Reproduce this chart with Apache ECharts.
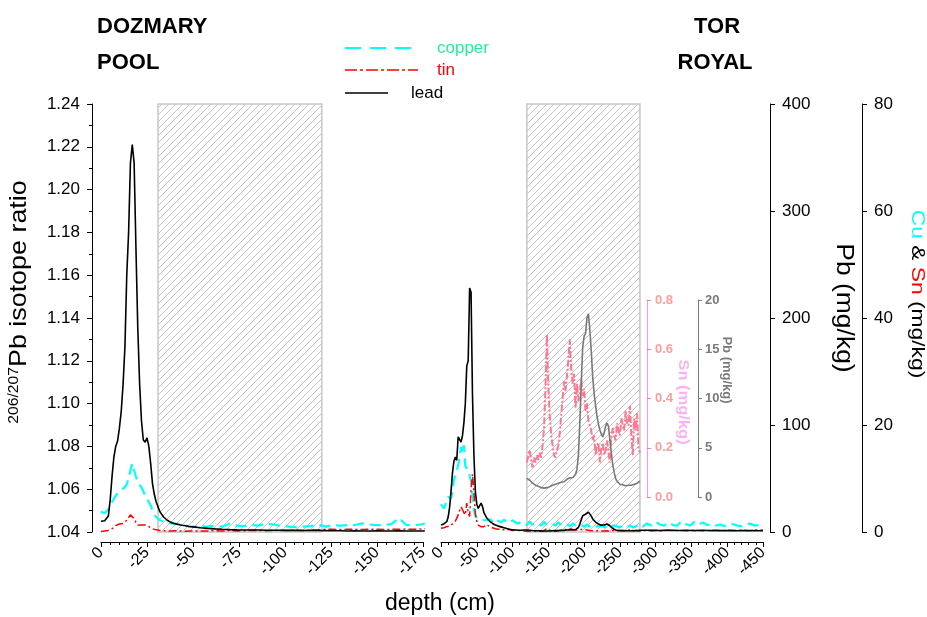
<!DOCTYPE html>
<html>
<head>
<meta charset="utf-8">
<script src="https://cdn.jsdelivr.net/npm/echarts@6/dist/echarts.min.js"></script>
<style>
  html, body { margin: 0; padding: 0; background: #fff; }
  #chart { width: 927px; height: 617px; }
</style>
</head>
<body>
<div id="chart"></div>
<script>
// ---------------- Dozmary Pool core (depth in cm, concentrations in mg/kg) ----------------
const dozDepth = [0,-1,-2,-3,-4,-5,-6,-7,-8,-9,-10,-11,-12,-13,-14,-15,-16,-17,-18,-19,-20,-21,-22,-23,-24,-25,-26,-27,-28,-29,-30,
  -32,-34,-36,-38,-40,-42,-44,-46,-48,-50,
  -54,-58,-62,-66,-70,-74,-78,-82,-86,-90,-94,-98,-102,-106,-110,-114,-118,-122,-126,-130,-134,-138,-142,-146,-150,-154,-158,-162,-166,-170,-174,-176];
const dozLead = [10,11,10.5,9,15,30,52,70,80,85,97,113,138,173,240,280,345,362,345,265,190,138,104,86,84,88,80,64,45,35,28,
  19,14,11,9,7.8,7,6.3,5.8,5.2,4.8,
  4.0,3.4,2.9,2.5,2.2,2.0,1.9,1.8,1.8,1.7,1.6,1.6,1.5,1.5,1.4,1.5,1.4,1.3,1.2,1.1,1.0,1.1,1.0,1.0,1.1,1.0,1.0,1.1,1.0,1.0,1.0,1.0];
const dozCopper = [3.8,3.9,3.5,3.4,4.2,5.0,5.6,6.2,6.8,7.2,7.5,7.8,8.0,8.4,8.9,10.0,11.5,12.8,11.5,10.3,9.5,8.8,8.3,7.6,6.8,6.3,5.6,5.0,4.0,3.2,2.8,
  2.2,2.0,1.8,1.6,1.6,1.5,1.4,1.2,1.0,1.0,
  1.1,1.0,1.2,1.0,1.6,1.2,1.1,1.3,1.2,1.6,1.4,1.1,1.0,0.9,1.0,1.1,1.4,1.0,1.3,1.2,1.3,1.3,1.6,1.4,1.3,1.3,1.5,2.6,1.3,1.3,1.4,1.6];
const dozTin = [0.1,0.1,0.2,0.25,0.3,0.4,0.6,0.9,1.2,1.4,1.5,1.6,1.6,1.8,2.2,2.5,3.2,3.5,2.5,1.8,1.3,1.2,1.3,1.3,1.3,1.2,1.0,0.8,0.6,0.5,0.4,
  0.3,0.25,0.2,0.2,0.25,0.2,0.2,0.15,0.2,0.2,
  0.2,0.2,0.25,0.2,0.3,0.2,0.25,0.3,0.3,0.25,0.3,0.3,0.3,0.35,0.3,0.35,0.4,0.5,0.5,0.45,0.5,0.5,0.45,0.5,0.5,0.45,0.5,0.5,0.55,0.5,0.55,0.6];

// ---------------- Tor Royal core ----------------
const torDepth = [0,-2,-4,-6,-8,-10,-12,-14,-16,-18,-20,-22,-24,-26,-28,-30,-32,-34,-36,-38,-40,-42,-44,-46,-48,-50,-52,-54,-56,-58,-60,
  -64,-68,-72,-76,-80,-84,-88,-92,-96,-100,-104,-108,-112,-116,
  -120,-122,-124,-126,-128,-130,-132,-134,-136,-138,-140,-142,-144,-146,-148,-150,-152,-154,-156,-158,
  -160,-162,-164,-166,-168,-170,-172,-174,-176,-178,-180,-182,-184,-186,-188,-190,-192,-194,-196,-198,
  -200,-202,-204,-206,-208,-210,-212,-214,-216,-218,-220,-222,-224,-226,-228,-230,-232,-234,-236,-238,
  -240,-242,-244,-246,-248,-250,-252,-254,-256,-258,-260,-262,-264,-266,-268,-270,-272,-274,-276,-278,
  -282,-288,-294,-300,-306,-312,-318,-324,-330,-336,-342,-348,-354,-360,-366,-372,-378,-384,-390,-396,-402,-408,-414,-420,-426,-432,-438,-444,-450];
const torLead = [6.5,7,7.5,8,9.6,14,23,38,55,66,70,67,89,88,84,90,102,120,155,160,228,224,128,72,38,26,22,23,27,24,18,
  13,10,8,6.5,5.5,4.8,4,3.2,2.5,2,1.8,1.6,1.7,1.8,
  1.9,1.8,1.7,1.5,1.4,1.3,1.2,1.15,1.1,1.0,0.95,0.9,0.9,0.85,0.95,1.0,1.05,1.1,1.2,1.25,
  1.3,1.35,1.4,1.4,1.5,1.6,1.55,1.7,1.8,1.75,1.95,2.0,1.95,2.1,2.3,2.8,4.2,7.5,11.5,15.2,
  16.3,16.6,18.2,18.6,17.0,14.8,12.2,10.5,9.3,8.2,7.4,6.8,6.4,6.1,6.5,7.2,7.5,7.2,5.8,4.5,
  3.3,2.5,1.9,1.6,1.4,1.3,1.2,1.25,1.2,1.15,1.2,1.2,1.1,1.2,1.1,1.3,1.4,1.4,1.5,1.6,
  1.7,1.6,1.5,1.5,1.4,1.5,1.6,1.5,1.4,1.4,1.5,1.4,1.3,1.4,1.5,1.4,1.3,1.4,1.3,1.3,1.4,1.3,1.2,1.3,1.3,1.2,1.3,1.2,1.2];
const torCopper = [5.2,4.8,4.4,4.2,5.7,6.6,6.4,6.2,7.5,9.8,10.6,11.4,12.5,14.0,15.9,14.7,16.2,12.3,12.0,11.5,10.5,9.4,7.0,4.2,2.9,2.7,2.6,2.6,2.4,2.3,2.2,
  2.2,2.4,2.0,2.5,2.1,1.8,2.3,1.9,1.7,2.2,1.8,1.6,1.9,1.5,
  1.3,1.5,1.9,1.6,1.4,1.2,1.5,1.8,1.6,1.3,1.2,1.5,1.9,1.7,1.4,1.3,1.6,1.9,1.5,1.3,
  1.2,1.4,1.8,1.6,1.3,1.2,1.5,1.7,1.4,1.2,1.1,1.3,1.6,1.4,1.2,1.0,1.2,1.5,1.3,1.1,
  1.0,1.2,1.4,1.2,1.0,1.1,1.3,1.2,1.0,0.9,1.1,1.3,1.1,1.0,0.9,1.0,1.2,1.1,0.9,1.0,
  1.2,1.4,1.2,1.0,0.9,1.1,1.0,0.9,1.1,1.0,0.9,1.0,1.2,1.1,0.9,0.8,1.0,1.2,1.4,1.2,
  1.0,1.6,1.2,1.9,1.4,1.2,1.8,1.3,1.2,2.0,1.5,1.2,1.9,1.4,1.8,1.3,1.5,1.2,1.4,1.1,1.3,1.5,1.2,1.1,1.3,1.6,1.2,1.3,1.7];
const torTin = [0.7,0.7,0.8,0.9,1.0,1.1,1.1,1.3,1.5,1.8,2.0,2.6,3.2,4.0,4.7,4.2,3.6,3.2,5.4,3.5,2.9,8.0,10.8,7.5,3.5,2.0,1.3,1.0,1.0,1.1,1.0,
  1.4,1.0,0.8,0.6,0.5,0.5,0.4,0.5,0.4,0.3,0.4,0.3,0.3,0.2,
  0.14,0.17,0.19,0.15,0.12,0.16,0.14,0.17,0.15,0.18,0.16,0.21,0.28,0.45,0.66,0.45,0.33,0.25,0.21,0.17,
  0.16,0.19,0.21,0.26,0.33,0.40,0.47,0.43,0.49,0.56,0.64,0.52,0.46,0.50,0.36,0.46,0.39,0.42,0.48,0.41,
  0.44,0.35,0.38,0.31,0.29,0.27,0.23,0.25,0.17,0.21,0.22,0.14,0.20,0.22,0.17,0.19,0.23,0.18,0.14,0.24,
  0.28,0.25,0.23,0.30,0.27,0.25,0.32,0.29,0.27,0.35,0.30,0.29,0.37,0.25,0.17,0.32,0.27,0.34,0.20,0.18,
  0.2,0.3,0.25,0.3,0.2,0.3,0.35,0.25,0.3,0.3,0.25,0.3,0.35,0.3,0.25,0.3,0.3,0.35,0.3,0.3,0.35,0.3,0.3,0.35,0.3,0.3,0.35,0.4,0.35];

// Depth ranges shaded with hatching (cm)
const dozHatch = [-31, -120];
const torHatch = [-120, -278];

// Axis ranges
const dozDepthRange = [-175, 0];
const torDepthRange = [-450, 0];

// ---------------- layout ----------------
const FONT = '"Liberation Sans", Arial, Helvetica, sans-serif';
const PLOT_TOP = 104, PLOT_H = 428, PANEL_W = 322;
const DOZ_LEFT = 101, TOR_LEFT = 441;
const INSET_TOP = 300, INSET_H = 197;
const torScale = PANEL_W / (torDepthRange[1] - torDepthRange[0]);
const insetLeft = TOR_LEFT + torScale * (0 - torHatch[0]);
const insetWidth = torScale * (torHatch[0] - torHatch[1]);

function pairs(xs, ys) { return xs.map((x, i) => [x, ys[i]]); }
function pairsWithin(xs, ys, range) {
  const out = [];
  xs.forEach((x, i) => { if (x <= range[0] && x >= range[1]) out.push([x, ys[i]]); });
  return out;
}

function hatchPattern() {
  const s = 7;
  const c = document.createElement('canvas');
  c.width = s; c.height = s;
  const g = c.getContext('2d');
  g.strokeStyle = '#c4c4c4';
  g.lineWidth = 1;
  g.beginPath();
  g.moveTo(0, s); g.lineTo(s, 0);
  g.moveTo(-2, 2); g.lineTo(2, -2);
  g.moveTo(s - 2, s + 2); g.lineTo(s + 2, s - 2);
  g.stroke();
  return c;
}
const hatchStyle = {
  color: { image: hatchPattern(), repeat: 'repeat' },
  borderColor: '#c6c6c6',
  borderWidth: 1.5
};

const tickLabel = { color: '#000', fontFamily: FONT, fontSize: 17 };

function depthAxis(gridIndex, range, interval) {
  return {
    type: 'value', gridIndex, min: range[0], max: range[1], interval, inverse: true,
    position: 'bottom', offset: 10,
    axisLine: { show: true, onZero: false, lineStyle: { color: '#000', width: 1 } },
    axisTick: { show: true, length: 5, lineStyle: { color: '#000' } },
    minorTick: { show: true, splitNumber: 5, length: 3, lineStyle: { color: '#000' } },
    axisLabel: { rotate: 45, margin: 8, color: '#000', fontFamily: FONT, fontSize: 16 },
    splitLine: { show: false }
  };
}

function valueAxis(gridIndex, position, offset, min, max, interval, extra) {
  return Object.assign({
    type: 'value', gridIndex, position, offset, min, max, interval,
    axisLine: { show: true, onZero: false, lineStyle: { color: '#000', width: 1 } },
    axisTick: { show: true, length: 5, lineStyle: { color: '#000' } },
    axisLabel: { ...tickLabel, margin: 12 },
    splitLine: { show: false }
  }, extra || {});
}

const lineBase = { type: 'line', showSymbol: false, symbol: 'none', smooth: false, animation: false, z: 3 };
const leadStyle = { color: '#000', width: 1.6 };
const copperStyle = { color: '#00ffff', width: 2.2, type: [11, 6] };
const tinStyle = { color: '#ff0000', width: 1.5, type: [8, 3, 2, 3] };

const option = {
  animation: false,
  backgroundColor: '#fff',
  grid: [
    { left: DOZ_LEFT, top: PLOT_TOP, width: PANEL_W, height: PLOT_H },
    { left: TOR_LEFT, top: PLOT_TOP, width: PANEL_W, height: PLOT_H },
    { left: insetLeft, top: INSET_TOP, width: insetWidth, height: INSET_H }
  ],
  xAxis: [
    depthAxis(0, dozDepthRange, 25),
    depthAxis(1, torDepthRange, 50),
    { type: 'value', gridIndex: 2, min: torHatch[1], max: torHatch[0], inverse: true, show: false }
  ],
  yAxis: [
    // 206/207Pb isotope ratio
    valueAxis(0, 'left', 9, 1.04, 1.24, 0.02, {
      minorTick: { show: true, splitNumber: 2, length: 3, lineStyle: { color: '#000' } },
      axisLabel: { ...tickLabel, margin: 12, formatter: v => v.toFixed(2) }
    }),
    // Pb (mg/kg)
    valueAxis(1, 'right', 7, 0, 400, 100),
    // Cu & Sn (mg/kg)
    valueAxis(1, 'right', 99, 0, 80, 20),
    { type: 'value', gridIndex: 0, min: 0, max: 400, show: false, axisLine: { onZero: false } },
    { type: 'value', gridIndex: 0, min: 0, max: 80, show: false, axisLine: { onZero: false } },
    // inset Sn (mg/kg)
    valueAxis(2, 'right', 7, 0, 0.8, 0.2, {
      axisLine: { show: true, onZero: false, lineStyle: { color: '#ff9cc4', width: 1 } },
      axisTick: { show: true, length: 4, lineStyle: { color: '#ff6cf0' } },
      axisLabel: { color: '#ff9c9c', fontFamily: FONT, fontSize: 13, fontWeight: 'bold', margin: 8, formatter: v => v.toFixed(1) }
    }),
    // inset Pb (mg/kg)
    valueAxis(2, 'right', 58, 0, 20, 5, {
      axisLine: { show: true, onZero: false, lineStyle: { color: '#7a7a7a', width: 1 } },
      axisTick: { show: true, length: 4, lineStyle: { color: '#7a7a7a' } },
      axisLabel: { color: '#7a7a7a', fontFamily: FONT, fontSize: 13, fontWeight: 'bold', margin: 7 }
    })
  ],
  series: [
    { type: 'line', xAxisIndex: 0, yAxisIndex: 3, data: [], z: 1, silent: true,
      markArea: { silent: true, itemStyle: hatchStyle, data: [[{ xAxis: dozHatch[0] }, { xAxis: dozHatch[1] }]] } },
    { type: 'line', xAxisIndex: 1, yAxisIndex: 1, data: [], z: 1, silent: true,
      markArea: { silent: true, itemStyle: hatchStyle, data: [[{ xAxis: torHatch[0] }, { xAxis: torHatch[1] }]] } },

    { ...lineBase, name: 'copper', xAxisIndex: 0, yAxisIndex: 4, data: pairs(dozDepth, dozCopper), lineStyle: copperStyle },
    { ...lineBase, name: 'tin', xAxisIndex: 0, yAxisIndex: 4, data: pairs(dozDepth, dozTin), lineStyle: tinStyle },
    { ...lineBase, name: 'lead', xAxisIndex: 0, yAxisIndex: 3, data: pairs(dozDepth, dozLead), lineStyle: leadStyle, z: 4 },

    { ...lineBase, name: 'copper', xAxisIndex: 1, yAxisIndex: 2, data: pairs(torDepth, torCopper), lineStyle: copperStyle },
    { ...lineBase, name: 'tin', xAxisIndex: 1, yAxisIndex: 2, data: pairs(torDepth, torTin), lineStyle: tinStyle },
    { ...lineBase, name: 'lead', xAxisIndex: 1, yAxisIndex: 1, data: pairs(torDepth, torLead), lineStyle: leadStyle, z: 4 },

    { ...lineBase, name: 'Sn inset', xAxisIndex: 2, yAxisIndex: 5, data: pairsWithin(torDepth, torTin, torHatch),
      lineStyle: { color: '#ff7890', width: 2, type: [7, 2, 2, 2] } },
    { ...lineBase, name: 'Pb inset', xAxisIndex: 2, yAxisIndex: 6, data: pairsWithin(torDepth, torLead, torHatch),
      lineStyle: { color: '#787878', width: 1.6 } }
  ],
  graphic: [
    // site names
    { type: 'text', x: 97, y: 27, style: { text: 'DOZMARY', fill: '#000', font: 'bold 22px ' + FONT, align: 'left', verticalAlign: 'middle' } },
    { type: 'text', x: 97, y: 63, style: { text: 'POOL', fill: '#000', font: 'bold 22px ' + FONT, align: 'left', verticalAlign: 'middle' } },
    { type: 'text', x: 717, y: 27, style: { text: 'TOR', fill: '#000', font: 'bold 22px ' + FONT, align: 'center', verticalAlign: 'middle' } },
    { type: 'text', x: 715, y: 63, style: { text: 'ROYAL', fill: '#000', font: 'bold 22px ' + FONT, align: 'center', verticalAlign: 'middle' } },

    // legend
    { type: 'line', shape: { x1: 345, y1: 48, x2: 413, y2: 48 }, style: { stroke: '#00ffff', lineWidth: 2.2, lineDash: [16, 9] } },
    { type: 'text', x: 437, y: 48, style: { text: 'copper', fill: '#22eea0', font: '17px ' + FONT, align: 'left', verticalAlign: 'middle' } },
    { type: 'line', shape: { x1: 345, y1: 70, x2: 418, y2: 70 }, style: { stroke: '#ff0000', lineWidth: 1.5, lineDash: [12, 3, 3, 3] } },
    { type: 'text', x: 437, y: 70, style: { text: 'tin', fill: '#ff0000', font: '17px ' + FONT, align: 'left', verticalAlign: 'middle' } },
    { type: 'line', shape: { x1: 345, y1: 93, x2: 388, y2: 93 }, style: { stroke: '#000', lineWidth: 1.6 } },
    { type: 'text', x: 411, y: 93, style: { text: 'lead', fill: '#000', font: '17px ' + FONT, align: 'left', verticalAlign: 'middle' } },

    // axis titles
    { type: 'text', x: 19, y: 302, rotation: Math.PI / 2, scaleX: 1.12,
      style: { text: '{sup|206/207}{main|Pb isotope ratio}', fill: '#000', align: 'center', verticalAlign: 'middle',
        rich: { sup: { fontFamily: FONT, fontSize: 14, verticalAlign: 'top', fill: '#000' },
                main: { fontFamily: FONT, fontSize: 24, fill: '#000' } } } },
    { type: 'text', x: 843, y: 308, rotation: -Math.PI / 2, scaleX: 1.15,
      style: { text: 'Pb (mg/kg)', fill: '#000', font: '23px ' + FONT, align: 'center', verticalAlign: 'middle' } },
    { type: 'text', x: 917, y: 294, rotation: -Math.PI / 2, scaleX: 1.2,
      style: { text: '{cu|Cu} & {sn|Sn} (mg/kg)', fill: '#000', font: '19px ' + FONT, align: 'center', verticalAlign: 'middle',
        rich: { cu: { fill: '#00ffff', fontFamily: FONT, fontSize: 19 }, sn: { fill: '#ff0000', fontFamily: FONT, fontSize: 19 } } } },
    { type: 'text', x: 683, y: 402, rotation: -Math.PI / 2, scaleX: 1.1,
      style: { text: 'Sn (mg/kg)', fill: '#ffb0f4', font: 'bold 15px ' + FONT, align: 'center', verticalAlign: 'middle' } },
    { type: 'text', x: 727, y: 370, rotation: -Math.PI / 2,
      style: { text: 'Pb (mg/kg)', fill: '#7a7a7a', font: 'bold 13px ' + FONT, align: 'center', verticalAlign: 'middle' } },
    { type: 'text', x: 440, y: 604,
      style: { text: 'depth (cm)', fill: '#000', font: '23px ' + FONT, align: 'center', verticalAlign: 'middle' } }
  ]
};

const chart = echarts.init(document.getElementById('chart'), null, { renderer: 'canvas' });
chart.setOption(option);
</script>
</body>
</html>
